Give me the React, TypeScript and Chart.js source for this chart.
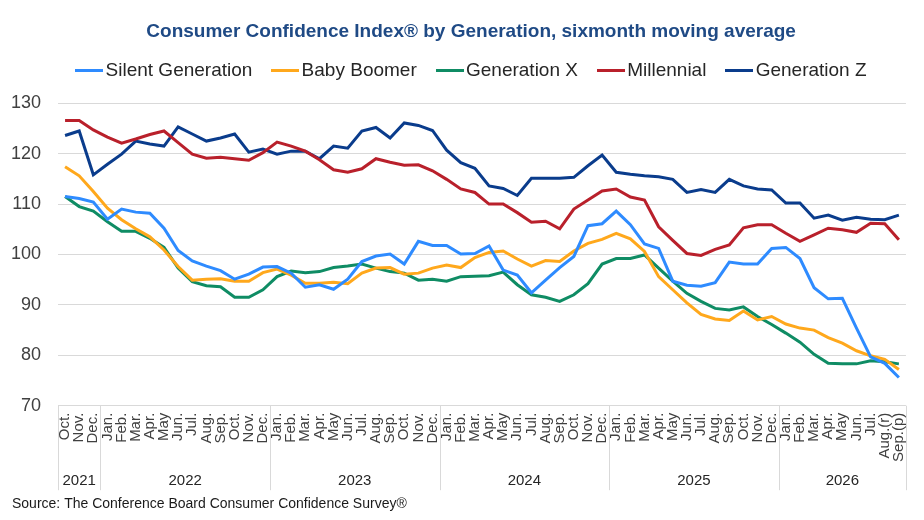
import React, { useEffect, useRef } from 'react';
import { Chart, registerables } from 'chart.js';

Chart.register(...registerables);

const monthLabels = [
  'Oct.', 'Nov.', 'Dec.',
  'Jan.', 'Feb.', 'Mar.', 'Apr.', 'May', 'Jun.', 'Jul.', 'Aug.', 'Sep.', 'Oct.', 'Nov.', 'Dec.',
  'Jan.', 'Feb.', 'Mar.', 'Apr.', 'May', 'Jun.', 'Jul.', 'Aug.', 'Sep.', 'Oct.', 'Nov.', 'Dec.',
  'Jan.', 'Feb.', 'Mar.', 'Apr.', 'May', 'Jun.', 'Jul.', 'Aug.', 'Sep.', 'Oct.', 'Nov.', 'Dec.',
  'Jan.', 'Feb.', 'Mar.', 'Apr.', 'May', 'Jun.', 'Jul.', 'Aug.', 'Sep.', 'Oct.', 'Nov.', 'Dec.',
  'Jan.', 'Feb.', 'Mar.', 'Apr.', 'May', 'Jun.', 'Jul.', 'Aug.(r)', 'Sep.(p)',
];

const yearLabels = ['2021', '2022', '2023', '2024', '2025', '2026'];
const yearCounts = [3, 12, 12, 12, 12, 9];

const silentGeneration = [
  111.5, 111.1, 110.4, 107.0, 109.0, 108.4, 108.2, 105.2, 100.8, 98.7,
  97.7, 96.8, 95.1, 96.1, 97.5, 97.6, 96.3, 93.5, 94.0, 93.1,
  95.1, 98.6, 99.7, 100.1, 98.1, 102.6, 101.8, 101.8, 100.1, 100.2,
  101.7, 96.9, 95.9, 92.4, 94.9, 97.4, 99.6, 105.7, 106.1, 108.6,
  105.9, 102.1, 101.2, 94.7, 93.9, 93.7, 94.4, 98.5, 98.1, 98.1,
  101.2, 101.4, 99.2, 93.4, 91.2, 91.3, 85.4, 79.7, 78.4, 75.6,
];

const babyBoomer = [
  117.4, 115.6, 112.5, 109.2, 106.9, 105.1, 103.5, 100.9, 97.6, 94.9,
  95.1, 95.2, 94.7, 94.7, 96.4, 97.1, 95.9, 94.3, 94.3, 94.5,
  94.2, 96.3, 97.3, 97.4, 96.1, 96.3, 97.3, 97.9, 97.4, 99.4,
  100.4, 100.7, 99.1, 97.7, 98.8, 98.6, 100.7, 102.2, 103.0, 104.2,
  103.1, 100.6, 95.6, 93.0, 90.4, 88.1, 87.2, 86.9, 88.8, 87.0,
  87.7, 86.2, 85.4, 85.0, 83.5, 82.4, 80.9, 79.9, 79.2, 77.2,
];

const generationX = [
  111.5, 109.5, 108.6, 106.5, 104.6, 104.6, 103.2, 101.4, 97.3, 94.6,
  93.8, 93.6, 91.5, 91.5, 93.0, 95.6, 96.7, 96.4, 96.6, 97.4,
  97.7, 98.1, 97.3, 96.6, 96.3, 94.9, 95.1, 94.7, 95.6, 95.7,
  95.8, 96.5, 94.0, 92.0, 91.5, 90.7, 92.0, 94.2, 98.1, 99.2,
  99.2, 99.9, 97.3, 94.7, 92.3, 90.7, 89.3, 89.0, 89.6, 87.7,
  86.1, 84.4, 82.6, 80.2, 78.4, 78.3, 78.3, 78.9, 78.7, 78.3,
];

const millennial = [
  126.6, 126.6, 124.7, 123.3, 122.1, 122.9, 123.8, 124.5, 122.2, 119.9,
  119.1, 119.3, 119.0, 118.7, 120.2, 122.3, 121.5, 120.5, 118.8, 116.8,
  116.3, 117.0, 119.0, 118.3, 117.7, 117.8, 116.6, 114.9, 113.0, 112.3,
  110.0, 110.0, 108.3, 106.4, 106.6, 105.1, 109.0, 110.8, 112.6, 113.0,
  111.4, 110.8, 105.5, 102.8, 100.2, 99.8, 101.0, 101.9, 105.3, 105.9,
  105.9, 104.2, 102.6, 103.9, 105.2, 104.9, 104.4, 106.2, 106.1, 102.9,
];

const generationZ = [
  123.6, 124.5, 115.8, 117.9, 119.9, 122.5, 121.9, 121.5, 125.3, 123.9,
  122.5, 123.1, 123.9, 120.3, 120.9, 119.9, 120.5, 120.5, 119.0, 121.5,
  121.1, 124.5, 125.2, 123.1, 126.1, 125.6, 124.6, 120.7, 118.2, 117.1,
  113.6, 113.1, 111.7, 115.1, 115.1, 115.1, 115.3, 117.6, 119.7, 116.3,
  115.9, 115.6, 115.4, 114.9, 112.3, 112.9, 112.3, 114.9, 113.6, 113.0,
  112.8, 110.2, 110.2, 107.2, 107.8, 106.8, 107.4, 107.0, 106.9, 107.8,
];

const seriesNames = ['Silent Generation', 'Baby Boomer', 'Generation X', 'Millennial', 'Generation Z'];
const seriesColors = ['#2E8BFF', '#FFA81C', '#0F8C64', '#B9202B', '#0A3C8C'];
const seriesValues = [silentGeneration, babyBoomer, generationX, millennial, generationZ];

const yTicks = { min: 70, max: 130, step: 10 };

const FONT = '"Liberation Sans", Arial, Helvetica, sans-serif';

const LEGEND_FONT = 19;
const LEGEND_PAD = 26.25;

const legendSpacer = {
  id: 'legendSpacer',
  afterInit(chart: any) {
    const lg = chart.legend;
    if (!lg) return;
    const orig = lg.fit;
    lg.fit = function () {
      orig.call(this);
      this.height = 53.85;
    };
  },
  afterLayout(chart: any) {
    const t = chart.titleBlock;
    if (t) {
      t.left += 10.5;
      t.right += 10.5;
    }
    const lg = chart.legend;
    if (lg) {
      lg.left += 13.9;
      lg.right += 13.9;
      lg.top = 70.65 - LEGEND_PAD - LEGEND_FONT / 2;
    }
  },
};

const yearRow = {
  id: 'yearRow',
  afterDraw(chart: any) {
    const x = chart.scales.x;
    const ctx = chart.ctx;
    const half = (x.getPixelForValue(1) - x.getPixelForValue(0)) / 2;
    const top = chart.chartArea.bottom;
    const bottom = top + 84.5;
    ctx.save();
    ctx.strokeStyle = '#D9D9D9';
    ctx.lineWidth = 1;
    ctx.font = `15px ${FONT}`;
    ctx.fillStyle = '#262626';
    ctx.textAlign = 'center';
    ctx.textBaseline = 'middle';
    const drawV = (px: number) => {
      const p = Math.round(px) + 0.5;
      ctx.beginPath();
      ctx.moveTo(p, top);
      ctx.lineTo(p, bottom);
      ctx.stroke();
    };
    let start = 0;
    drawV(x.getPixelForValue(0) - half);
    yearLabels.forEach((yl, k) => {
      const n = yearCounts[k];
      const l = x.getPixelForValue(start) - half;
      const r = x.getPixelForValue(start + n - 1) + half;
      drawV(r);
      ctx.fillText(yl, (l + r) / 2, top + 75.5);
      start += n;
    });
    ctx.restore();
  },
};

function makeMarker(color: string) {
  const c = document.createElement('canvas');
  c.width = 28;
  c.height = 3;
  const g = c.getContext('2d');
  if (g) {
    g.fillStyle = color;
    g.fillRect(0, 0, 28, 3);
  }
  return c;
}

export default function App() {
  const ref = useRef<HTMLCanvasElement>(null);

  useEffect(() => {
    if (!ref.current) return;
    Chart.defaults.font.family = FONT;
    const markers = seriesColors.map(makeMarker);
    const chart = new Chart(ref.current, {
      type: 'line',
      data: {
        labels: monthLabels,
        datasets: seriesNames.map((name, i) => ({
          label: name,
          data: seriesValues[i],
          borderColor: seriesColors[i],
          backgroundColor: seriesColors[i],
          borderWidth: 3,
          pointRadius: 0,
          pointHoverRadius: 0,
          tension: 0,
          fill: false,
        })),
      },
      options: {
        animation: false,
        responsive: true,
        maintainAspectRatio: false,
        layout: { padding: { left: 12, right: 14.7, top: 0, bottom: 0 } },
        plugins: {
          title: {
            display: true,
            text: 'Consumer Confidence Index® by Generation, sixmonth moving average',
            color: '#1F4A85',
            font: { size: 19, weight: 'bold', family: FONT },
            padding: { top: 20.6, bottom: 6 },
          },
          subtitle: {
            display: true,
            text: 'Source: The Conference Board Consumer Confidence Survey®',
            position: 'bottom',
            align: 'start',
            color: '#1A1A1A',
            font: { size: 14, family: FONT },
            padding: { top: 4, bottom: 7.5 },
          },
          legend: {
            display: true,
            position: 'top',
            labels: {
              usePointStyle: true,
              pointStyleWidth: 13.5,
              boxHeight: 3,
              padding: LEGEND_PAD,
              color: '#262626',
              font: { size: LEGEND_FONT, family: FONT },
              generateLabels: (c: any) =>
                Chart.defaults.plugins.legend.labels
                  .generateLabels(c)
                  .map((l: any, i: number) => ({
                    ...l,
                    lineWidth: 0,
                    fillStyle: l.strokeStyle,
                    pointStyle: markers[i],
                  })),
            },
          },
          tooltip: { enabled: false },
        },
        scales: {
          x: {
            type: 'category',
            offset: true,
            grid: { display: false, drawTicks: false },
            border: { display: false },
            ticks: {
              autoSkip: false,
              minRotation: 90,
              maxRotation: 90,
              padding: 7,
              color: '#404040',
              font: { size: 15, family: FONT },
            },
            afterFit: (s: any) => {
              s.height = 86;
            },
          },
          y: {
            min: yTicks.min,
            max: yTicks.max,
            grid: { color: '#D9D9D9', drawTicks: false, lineWidth: 1 },
            border: { display: false },
            ticks: {
              stepSize: yTicks.step,
              padding: 17,
              color: '#404040',
              font: { size: 18, family: FONT },
            },
            afterFit: (s: any) => {
              s.width = 46;
            },
          },
        },
      },
      plugins: [legendSpacer, yearRow],
    } as any);
    return () => chart.destroy();
  }, []);

  return (
    <div style={{ position: 'absolute', left: 0, top: 0, width: 924, height: 520 }}>
      <canvas ref={ref} />
    </div>
  );
}
